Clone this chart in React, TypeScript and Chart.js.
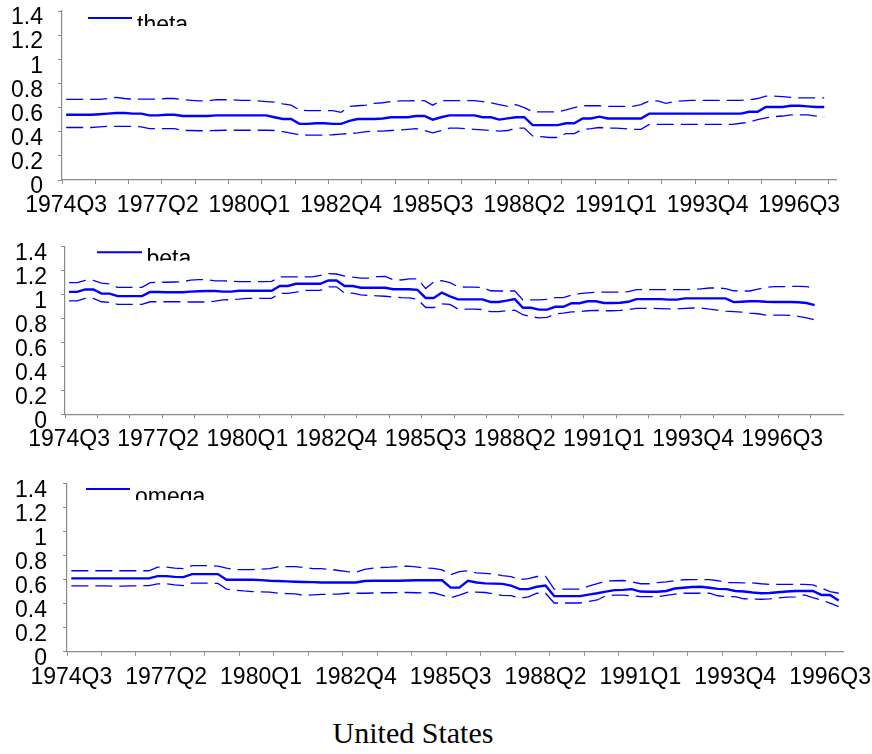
import React, { useEffect, useRef } from 'react';
import { Chart, registerables } from 'chart.js';

Chart.register(...registerables);

// ---------- data ----------
const X_TICK_LABELS = ['1974Q3', '1977Q2', '1980Q1', '1982Q4', '1985Q3', '1988Q2', '1991Q1', '1993Q4', '1996Q3'];
const Y_TICKS = [0, 0.2, 0.4, 0.6, 0.8, 1, 1.2, 1.4];

const THETA = [
  0.54, 0.54, 0.54, 0.54, 0.545, 0.55, 0.555, 0.555, 0.55, 0.55,
  0.535, 0.535, 0.54, 0.54, 0.53, 0.53, 0.53, 0.53, 0.535, 0.535,
  0.535, 0.535, 0.535, 0.535, 0.535, 0.52, 0.505, 0.505, 0.465, 0.465,
  0.47, 0.47, 0.465, 0.465, 0.49, 0.505, 0.505, 0.505, 0.51, 0.52,
  0.52, 0.52, 0.53, 0.53, 0.5, 0.52, 0.535, 0.535, 0.535, 0.535,
  0.52, 0.52, 0.5, 0.51, 0.52, 0.52, 0.455, 0.455, 0.455, 0.455,
  0.47, 0.47, 0.51, 0.51, 0.525, 0.51, 0.51, 0.51, 0.51, 0.51,
  0.55, 0.55, 0.55, 0.55, 0.55, 0.55, 0.55, 0.55, 0.55, 0.55,
  0.55, 0.55, 0.565, 0.565, 0.605, 0.605, 0.605, 0.615, 0.615, 0.61,
  0.605, 0.605,
];
const THETA_UPPER = [
  0.668, 0.668, 0.668, 0.668, 0.668, 0.675, 0.685, 0.675, 0.67, 0.67,
  0.67, 0.67, 0.675, 0.675, 0.665, 0.66, 0.655, 0.655, 0.665, 0.665,
  0.665, 0.66, 0.66, 0.655, 0.65, 0.645, 0.63, 0.62, 0.58, 0.575,
  0.575, 0.575, 0.575, 0.56, 0.61, 0.615, 0.62, 0.635, 0.64, 0.65,
  0.655, 0.655, 0.657, 0.657, 0.62, 0.657, 0.657, 0.657, 0.657, 0.657,
  0.65, 0.64, 0.625, 0.61, 0.625, 0.6, 0.565, 0.565, 0.565, 0.565,
  0.58, 0.6, 0.615, 0.615, 0.615, 0.61, 0.61, 0.61, 0.61, 0.625,
  0.655, 0.655, 0.635, 0.65, 0.655, 0.66, 0.66, 0.66, 0.66, 0.66,
  0.66, 0.66, 0.665, 0.675, 0.695, 0.695, 0.69, 0.685, 0.68, 0.68,
  0.68, 0.68,
];
const THETA_LOWER = [
  0.435, 0.435, 0.435, 0.435, 0.44, 0.445, 0.445, 0.445, 0.445, 0.44,
  0.425, 0.425, 0.425, 0.425, 0.41, 0.41, 0.408, 0.408, 0.41, 0.412,
  0.412, 0.412, 0.412, 0.412, 0.412, 0.41, 0.4, 0.388, 0.375, 0.372,
  0.372, 0.372, 0.375, 0.38, 0.385, 0.39, 0.4, 0.405, 0.405, 0.41,
  0.415, 0.42, 0.425, 0.41, 0.39, 0.41, 0.43, 0.43, 0.425, 0.42,
  0.415, 0.41, 0.405, 0.41, 0.43, 0.43, 0.365, 0.36, 0.352, 0.352,
  0.385, 0.385, 0.42, 0.425, 0.435, 0.43, 0.43, 0.425, 0.42, 0.42,
  0.46, 0.46, 0.46, 0.46, 0.46, 0.46, 0.46, 0.46, 0.46, 0.46,
  0.46, 0.47, 0.48, 0.5, 0.515, 0.525, 0.53, 0.54, 0.54, 0.54,
  0.53, 0.525,
];

const BETA = [
  1.023, 1.023, 1.043, 1.043, 1.008, 1.008, 0.987, 0.987, 0.987, 0.987,
  1.022, 1.022, 1.02, 1.02, 1.02, 1.025, 1.028, 1.03, 1.03, 1.025,
  1.025, 1.032, 1.032, 1.032, 1.032, 1.032, 1.072, 1.072, 1.09, 1.09,
  1.09, 1.09, 1.118, 1.118, 1.072, 1.072, 1.057, 1.057, 1.057, 1.057,
  1.045, 1.045, 1.045, 1.04, 0.972, 0.972, 1.017, 0.985, 0.96, 0.96,
  0.96, 0.96, 0.938, 0.938, 0.95, 0.962, 0.89, 0.89, 0.874, 0.874,
  0.898, 0.898, 0.928, 0.928, 0.944, 0.944, 0.93, 0.93, 0.932, 0.94,
  0.962, 0.962, 0.962, 0.962, 0.958, 0.958, 0.968, 0.968, 0.968, 0.968,
  0.968, 0.968, 0.937, 0.94, 0.944, 0.944, 0.94, 0.938, 0.938, 0.938,
  0.936, 0.93, 0.912,
];
const BETA_UPPER = [
  1.1, 1.1, 1.118, 1.118, 1.095, 1.09, 1.06, 1.06, 1.06, 1.06,
  1.1, 1.103, 1.103, 1.105, 1.108, 1.12, 1.125, 1.125, 1.115, 1.115,
  1.112, 1.108, 1.108, 1.108, 1.108, 1.11, 1.148, 1.148, 1.148, 1.148,
  1.148, 1.16, 1.175, 1.172, 1.155, 1.145, 1.138, 1.138, 1.15, 1.152,
  1.125, 1.122, 1.132, 1.132, 1.05, 1.105, 1.117, 1.1, 1.065, 1.062,
  1.062, 1.06, 1.032, 1.03, 1.03, 1.03, 0.955, 0.955, 0.955, 0.96,
  0.975, 0.975, 0.995, 1.008, 1.015, 1.02, 1.02, 1.02, 1.02, 1.025,
  1.042, 1.042, 1.042, 1.042, 1.042, 1.042, 1.042, 1.042, 1.048, 1.055,
  1.055, 1.05, 1.032, 1.03, 1.03, 1.045, 1.062, 1.066, 1.066, 1.068,
  1.068, 1.066, 1.052,
];
const BETA_LOWER = [
  0.948, 0.948, 0.968, 0.968, 0.94, 0.935, 0.918, 0.918, 0.918, 0.918,
  0.94, 0.94, 0.94, 0.94, 0.94, 0.938, 0.938, 0.938, 0.945, 0.955,
  0.958, 0.962, 0.968, 0.968, 0.968, 0.968, 1.01, 1.01, 1.02, 1.035,
  1.035, 1.035, 1.065, 1.065, 1.013, 1.013, 0.998, 0.992, 0.99, 0.986,
  0.98, 0.975, 0.972, 0.962, 0.892, 0.892, 0.922, 0.918, 0.878, 0.878,
  0.878, 0.875, 0.858, 0.858, 0.865, 0.87, 0.832, 0.815, 0.806, 0.81,
  0.838, 0.845, 0.855, 0.858, 0.865, 0.868, 0.865, 0.865, 0.868, 0.875,
  0.885, 0.885, 0.885, 0.882, 0.88, 0.88, 0.885, 0.888, 0.888, 0.878,
  0.87, 0.862, 0.857, 0.853, 0.845, 0.84, 0.828, 0.828, 0.828, 0.826,
  0.818, 0.806, 0.79,
];

const OMEGA = [
  0.61, 0.61, 0.61, 0.61, 0.61, 0.61, 0.61, 0.61, 0.61, 0.61,
  0.628, 0.628, 0.622, 0.62, 0.645, 0.645, 0.645, 0.645, 0.598, 0.598,
  0.598, 0.598, 0.595, 0.59, 0.588, 0.585, 0.582, 0.58, 0.578, 0.575,
  0.575, 0.575, 0.575, 0.575, 0.588, 0.59, 0.59, 0.59, 0.59, 0.592,
  0.594, 0.594, 0.594, 0.594, 0.533, 0.533, 0.59, 0.575, 0.568, 0.566,
  0.564, 0.55, 0.52, 0.52, 0.54, 0.55, 0.462, 0.462, 0.462, 0.462,
  0.475, 0.486, 0.5, 0.512, 0.514, 0.52, 0.5, 0.498, 0.498, 0.505,
  0.525, 0.532, 0.538, 0.54, 0.532, 0.522, 0.52, 0.505, 0.5, 0.492,
  0.486, 0.488, 0.494, 0.5, 0.505, 0.505, 0.505, 0.472, 0.472, 0.425,
];
const OMEGA_UPPER = [
  0.673, 0.673, 0.673, 0.673, 0.673, 0.673, 0.673, 0.673, 0.673, 0.673,
  0.703, 0.703, 0.695, 0.69, 0.715, 0.715, 0.715, 0.712, 0.695, 0.683,
  0.683, 0.683, 0.686, 0.69, 0.705, 0.707, 0.707, 0.7, 0.69, 0.69,
  0.685, 0.675, 0.665, 0.66, 0.685, 0.695, 0.7, 0.703, 0.708, 0.712,
  0.705, 0.695, 0.693, 0.68, 0.64, 0.665, 0.672, 0.655, 0.652, 0.645,
  0.632, 0.625, 0.6, 0.608, 0.625, 0.626, 0.52, 0.52, 0.52, 0.52,
  0.545, 0.565, 0.588, 0.59, 0.592, 0.58, 0.565, 0.565, 0.575, 0.58,
  0.59, 0.598, 0.6, 0.6, 0.6, 0.59, 0.575, 0.575, 0.572, 0.572,
  0.565, 0.56, 0.56, 0.56, 0.56, 0.56, 0.555, 0.53, 0.5, 0.486,
];
const OMEGA_LOWER = [
  0.548, 0.548, 0.548, 0.548, 0.548, 0.545, 0.545, 0.548, 0.548, 0.55,
  0.564, 0.564, 0.556, 0.55, 0.57, 0.57, 0.57, 0.568, 0.52, 0.512,
  0.505, 0.5, 0.498, 0.495, 0.486, 0.483, 0.48, 0.468, 0.472, 0.476,
  0.478, 0.478, 0.486, 0.486, 0.486, 0.488, 0.49, 0.49, 0.492, 0.492,
  0.49, 0.488, 0.49, 0.47, 0.45, 0.47, 0.496, 0.495, 0.492, 0.48,
  0.468, 0.467, 0.444, 0.455, 0.486, 0.486, 0.405, 0.405, 0.405, 0.405,
  0.418, 0.43, 0.465, 0.47, 0.47, 0.465, 0.458, 0.458, 0.458, 0.468,
  0.478, 0.486, 0.486, 0.486, 0.486, 0.465, 0.458, 0.458, 0.44, 0.438,
  0.436, 0.44, 0.448, 0.453, 0.455, 0.472, 0.45, 0.43, 0.403, 0.375,
];

// number of quarterly categories on each panel's axis
const THETA_CATEGORY_COUNT = 93;
const BETA_CATEGORY_COUNT = 96;
const OMEGA_CATEGORY_COUNT = 90;

function quarterLabels(n: number): string[] {
  const out: string[] = [];
  let y = 1974;
  let q = 3;
  for (let i = 0; i < n; i++) {
    out.push(`${y}Q${q}`);
    q++;
    if (q > 4) { q = 1; y++; }
  }
  return out;
}

// ---------- styling / layout ----------
const BLUE = '#0000ff';
const AXIS_GRAY = '#8a8a8a';
const FONT = "'Liberation Sans', Arial, sans-serif";

type Panel = {
  name: string;
  n: number;
  mid: number[];
  up: number[];
  lo: number[];
  top: number;
  height: number;
  padTop: number;
  padRight: number;
  yWidth: number;
  xHeight: number;
  yPad: number;
  legend: { x0: number; x1: number; ly: number; tx: number; ty: number; clip: number };
};

const PANELS: Panel[] = [
  {
    name: 'theta', n: THETA_CATEGORY_COUNT, mid: THETA, up: THETA_UPPER, lo: THETA_LOWER,
    top: 0, height: 215, padTop: 11, padRight: 35.3, yWidth: 62, xHeight: 35, yPad: 15,
    legend: { x0: 26, x1: 70, ly: 7, tx: 75, ty: 21, clip: 15 },
  },
  {
    name: 'beta', n: BETA_CATEGORY_COUNT, mid: BETA, up: BETA_UPPER, lo: BETA_LOWER,
    top: 230, height: 220, padTop: 16.7, padRight: 29, yWidth: 65, xHeight: 35.7, yPad: 14,
    legend: { x0: 32, x1: 77, ly: 5.6, tx: 81.5, ty: 18.8, clip: 14 },
  },
  {
    name: 'omega', n: OMEGA_CATEGORY_COUNT, mid: OMEGA, up: OMEGA_UPPER, lo: OMEGA_LOWER,
    top: 465, height: 225, padTop: 18.3, padRight: 29, yWidth: 67, xHeight: 38.3, yPad: 16,
    legend: { x0: 19, x1: 63, ly: 5.7, tx: 68, ty: 20.9, clip: 16.7 },
  },
];

function PanelChart({ p }: { p: Panel }) {
  const ref = useRef<HTMLCanvasElement | null>(null);
  useEffect(() => {
    if (!ref.current) return;
    const labels = quarterLabels(p.n);
    const legendPlugin = {
      id: 'clippedLegend',
      afterDraw(chart: any) {
        const { ctx, chartArea } = chart;
        const L = p.legend;
        ctx.save();
        ctx.strokeStyle = BLUE;
        ctx.lineWidth = 2;
        ctx.beginPath();
        ctx.moveTo(chartArea.left + L.x0, chartArea.top + L.ly);
        ctx.lineTo(chartArea.left + L.x1, chartArea.top + L.ly);
        ctx.stroke();
        ctx.beginPath();
        ctx.rect(0, 0, chart.width, chartArea.top + L.clip);
        ctx.clip();
        ctx.fillStyle = '#000';
        ctx.font = `23px ${FONT}`;
        ctx.textBaseline = 'alphabetic';
        ctx.textAlign = 'left';
        ctx.fillText(p.name, chartArea.left + L.tx, chartArea.top + L.ty);
        ctx.restore();
      },
    };
    const dashed = (data: number[]) => ({
      data,
      borderColor: BLUE,
      borderWidth: 1.3,
      borderDash: [17, 7],
      pointRadius: 0,
      tension: 0,
      fill: false,
    });
    const chart = new Chart(ref.current, {
      type: 'line',
      data: {
        labels,
        datasets: [
          dashed(p.up),
          dashed(p.lo),
          { data: p.mid, borderColor: BLUE, borderWidth: 2.4, pointRadius: 0, tension: 0, fill: false },
        ],
      },
      options: {
        responsive: false,
        animation: false,
        devicePixelRatio: 1,
        layout: { padding: { top: p.padTop, right: p.padRight, left: 0, bottom: 0 } },
        plugins: { legend: { display: false }, tooltip: { enabled: false }, title: { display: false } },
        scales: {
          x: {
            type: 'category',
            offset: true,
            grid: {
              offset: true,
              drawOnChartArea: false,
              drawTicks: true,
              tickLength: 4,
              color: (c: any) => (c.index % 4 === 0 ? AXIS_GRAY : 'rgba(0,0,0,0)'),
              tickColor: (c: any) => (c.index % 4 === 0 ? AXIS_GRAY : 'rgba(0,0,0,0)'),
            },
            border: { display: true, color: AXIS_GRAY, width: 1.2 },
            ticks: {
              autoSkip: false,
              maxRotation: 0,
              minRotation: 0,
              padding: 8,
              color: '#000',
              font: { family: FONT, size: 23 },
              callback: (_v: any, i: number) => (X_TICK_LABELS.includes(labels[i]) ? labels[i] : ''),
            },
            afterFit: (s: any) => {
              s.height = p.xHeight;
              s.paddingLeft = 0;
              s.paddingRight = 0;
            },
          },
          y: {
            min: 0,
            max: 1.4,
            grid: { drawOnChartArea: false, drawTicks: true, tickLength: 4, color: AXIS_GRAY },
            border: { display: true, color: AXIS_GRAY, width: 1.2 },
            afterBuildTicks: (s: any) => {
              s.ticks = Y_TICKS.map((v) => ({ value: v }));
            },
            ticks: {
              autoSkip: false,
              padding: p.yPad,
              labelOffset: 7,
              color: '#000',
              font: { family: FONT, size: 23 },
              callback: (v: any) => String(v),
            },
            afterFit: (s: any) => {
              s.width = p.yWidth;
              s.paddingTop = 0;
              s.paddingBottom = 0;
            },
          },
        },
      },
      plugins: [legendPlugin],
    } as any);
    return () => chart.destroy();
  }, [p]);
  return (
    <canvas
      ref={ref}
      width={872}
      height={p.height}
      style={{ position: 'absolute', left: 0, top: p.top, width: 872, height: p.height }}
    />
  );
}

export default function App() {
  return (
    <div style={{ position: 'absolute', left: 0, top: 0, width: 872, height: 754, background: '#fff' }}>
      {PANELS.map((p) => (
        <PanelChart key={p.name} p={p} />
      ))}
      <div
        style={{
          position: 'absolute',
          left: 213,
          top: 716,
          width: 400,
          textAlign: 'center',
          fontFamily: "'Liberation Serif', 'Times New Roman', serif",
          fontSize: 30,
          color: '#000',
          lineHeight: 1.15,
        }}
      >
        United States
      </div>
    </div>
  );
}
